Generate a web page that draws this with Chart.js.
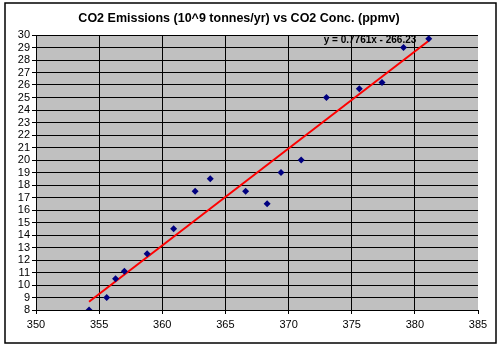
<!DOCTYPE html>
<html>
<head>
<meta charset="utf-8">
<script src="https://cdn.jsdelivr.net/npm/chart.js@4.4.1/dist/chart.umd.min.js"></script>
<style>
  html, body { margin: 0; padding: 0; background: #fff; }
  #wrap { width: 500px; height: 347px; position: relative; }
</style>
</head>
<body>
<div id="wrap"><canvas id="co2Chart" width="500" height="347"></canvas></div>
<script>
// CO2 concentration (ppmv) vs emissions (10^9 tonnes/yr)
const concPpmv = [354.2, 355.6, 356.3, 357.0, 358.8, 360.9, 362.6, 363.8, 366.6, 368.3, 369.4, 371.0, 373.0, 375.6, 377.4, 379.1, 381.1];
const emissions = [8.0, 9.0, 10.5, 11.1, 12.5, 14.5, 17.5, 18.5, 17.5, 16.5, 19.0, 20.0, 25.0, 25.7, 26.2, 29.0, 29.7];

// Trendline shown on the chart
const trendSlope = 0.7761;
const trendIntercept = -266.23;
const trendLabel = "y = 0.7761x - 266.23";

const xTicks = [350, 355, 360, 365, 370, 375, 380, 385];
const yMin = 8, yMax = 30;

const xFirst = concPpmv[0];
const xLast = concPpmv[concPpmv.length - 1];
const trendPoints = [
  { x: xFirst, y: trendSlope * xFirst + trendIntercept },
  { x: xLast, y: trendSlope * xLast + trendIntercept },
];

const excelLook = {
  id: "excelLook",
  beforeDraw(chart) {
    const { ctx, chartArea } = chart;
    ctx.save();
    ctx.fillStyle = "#c0c0c0";
    ctx.fillRect(chartArea.left, chartArea.top, chartArea.right - chartArea.left, chartArea.bottom - chartArea.top);
    ctx.restore();
  },
  afterDraw(chart) {
    const { ctx, scales } = chart;
    ctx.save();
    // outer frame
    ctx.strokeStyle = "#000";
    ctx.lineWidth = 1.5;
    ctx.strokeRect(5, 3, 491, 340);
    // equation label
    ctx.fillStyle = "#000";
    ctx.font = "bold 10px 'Liberation Sans', Arial, sans-serif";
    ctx.textAlign = "center";
    ctx.textBaseline = "middle";
    ctx.fillText(trendLabel, scales.x.getPixelForValue(376.45), scales.y.getPixelForValue(29.6));
    ctx.restore();
  },
};

const contextOfGraph = document.getElementById("co2Chart").getContext("2d");

new Chart(contextOfGraph, {
  type: "scatter",
  data: {
    datasets: [
      {
        label: "Emissions",
        data: concPpmv.map((c, i) => ({ x: c, y: emissions[i] })),
        pointStyle: "rectRot",
        pointRadius: 3.5,
        backgroundColor: "#000080",
        borderColor: "#000080",
        borderWidth: 0,
        order: 1,
      },
      {
        label: "Trend",
        type: "line",
        data: trendPoints,
        borderColor: "#ff0000",
        borderWidth: 2,
        pointRadius: 0,
        fill: false,
        order: 2,
      },
    ],
  },
  options: {
    responsive: false,
    animation: false,
    layout: { padding: { left: 0, right: 22, top: 0, bottom: 0 } },
    plugins: {
      legend: { display: false },
      tooltip: { enabled: false },
      title: {
        display: true,
        text: "CO2 Emissions (10^9 tonnes/yr) vs CO2 Conc. (ppmv)",
        color: "#000",
        font: { family: "'Liberation Sans', Arial, sans-serif", size: 12.5, weight: "bold", lineHeight: 1.2 },
        padding: { top: 11, bottom: 9 },
      },
    },
    scales: {
      x: {
        type: "linear",
        min: xTicks[0],
        max: xTicks[xTicks.length - 1],
        afterBuildTicks: (scale) => { scale.ticks = xTicks.map((v) => ({ value: v })); },
        afterFit: (scale) => { scale.height = 37; },
        ticks: {
          color: "#000",
          padding: 4,
          maxRotation: 0,
          autoSkip: false,
          font: { family: "'Liberation Sans', Arial, sans-serif", size: 11 },
        },
        grid: {
          color: (c) => (c.tick && c.tick.value === 385 ? "rgba(0,0,0,0)" : "#000"),
          tickColor: "#000",
          tickLength: 4,
          lineWidth: 1,
        },
        border: { color: "#000", width: 1 },
      },
      y: {
        type: "linear",
        min: yMin,
        max: yMax,
        afterFit: (scale) => { scale.width = 36; },
        ticks: {
          stepSize: 1,
          autoSkip: false,
          color: "#000",
          padding: 2,
          font: { family: "'Liberation Sans', Arial, sans-serif", size: 11 },
        },
        grid: {
          color: "#000",
          tickColor: "#000",
          tickLength: 4,
          lineWidth: 1,
        },
        border: { color: "#000", width: 1 },
      },
    },
  },
  plugins: [excelLook],
});
</script>
</body>
</html>
